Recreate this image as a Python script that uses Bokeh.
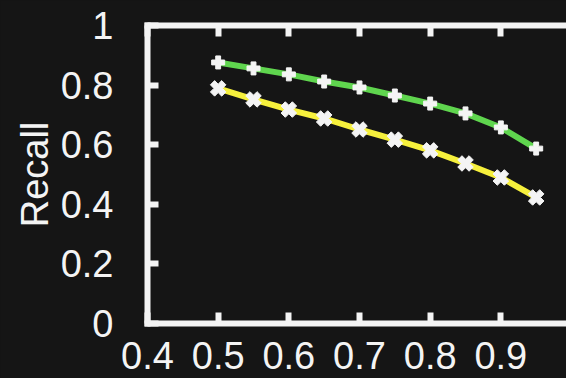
import math
from bokeh.plotting import figure
from bokeh.models import LinearAxis, FixedTicker, Range1d, GlobalInlineStyleSheet
from bokeh.embed import file_html
from bokeh.resources import INLINE

# ---- data ----
threshold = [0.5, 0.55, 0.6, 0.65, 0.7, 0.75, 0.8, 0.85, 0.9, 0.95]
recall_green = [0.876, 0.856, 0.836, 0.812, 0.792, 0.765, 0.738, 0.705, 0.658, 0.587]
recall_yellow = [0.789, 0.752, 0.718, 0.688, 0.651, 0.617, 0.581, 0.537, 0.490, 0.423]
x_ticks = [0.4, 0.5, 0.6, 0.7, 0.8, 0.9, 1.0]
x_tick_labels = ["0.4", "0.5", "0.6", "0.7", "0.8", "0.9", "1"]
y_ticks = [0.0, 0.2, 0.4, 0.6, 0.8, 1.0]
y_tick_labels = ["0", "0.2", "0.4", "0.6", "0.8", "1"]

BG = "#151515"
FG = "#f4f4f4"
GREEN = "#5fd54e"
YELLOW = "#f6f03c"
FONT = "Liberation Sans"

p = figure(width=566, height=378, output_backend="svg", toolbar_location=None,
           x_range=Range1d(0.4, 0.9929), y_range=Range1d(0, 1),
           x_axis_location=None, y_axis_location=None,
           min_border_left=147, min_border_right=0, min_border_top=25, min_border_bottom=55,
           background_fill_color=BG, border_fill_color=BG, outline_line_color=None)
p.grid.visible = False
p.stylesheets = [GlobalInlineStyleSheet(css="html, body { background-color: #151515; }")]


def style(ax, ticks, labels, font_size="38px", standoff=0):
    ax.ticker = FixedTicker(ticks=ticks)
    ax.major_label_overrides = dict(zip(ticks, labels))
    ax.axis_line_color = FG
    ax.axis_line_width = 6
    ax.axis_line_cap = "square"
    ax.major_tick_line_color = FG
    ax.major_tick_line_width = 6
    ax.major_tick_in = 11
    ax.major_tick_out = 0
    ax.minor_tick_line_color = None
    ax.major_label_text_color = FG
    ax.major_label_text_font = FONT
    ax.major_label_text_font_size = font_size
    ax.major_label_standoff = standoff


left = LinearAxis()
style(left, y_ticks, y_tick_labels, standoff=34)
left.axis_label = "Recall"
left.axis_label_text_font = FONT
left.axis_label_text_font_size = "38px"
left.axis_label_text_font_style = "normal"
left.axis_label_text_color = FG
left.axis_label_standoff = 2
p.add_layout(left, "left")

bottom = LinearAxis()
style(bottom, x_ticks, x_tick_labels, standoff=18)
p.add_layout(bottom, "below")

top = LinearAxis()
style(top, x_ticks, ["" for _ in x_tick_labels], font_size="0px", standoff=0)
p.add_layout(top, "above")

p.line(threshold, recall_green, line_color=GREEN, line_width=6)
p.scatter(threshold, recall_green, marker="plus", size=13, fill_color=FG, line_color=FG, line_width=1)

p.line(threshold, recall_yellow, line_color=YELLOW, line_width=6)
p.scatter(threshold, recall_yellow, marker="plus", angle=math.pi / 4, size=16,
          fill_color=FG, line_color=FG, line_width=1)

open("out.html", "w").write(file_html(p, INLINE))
